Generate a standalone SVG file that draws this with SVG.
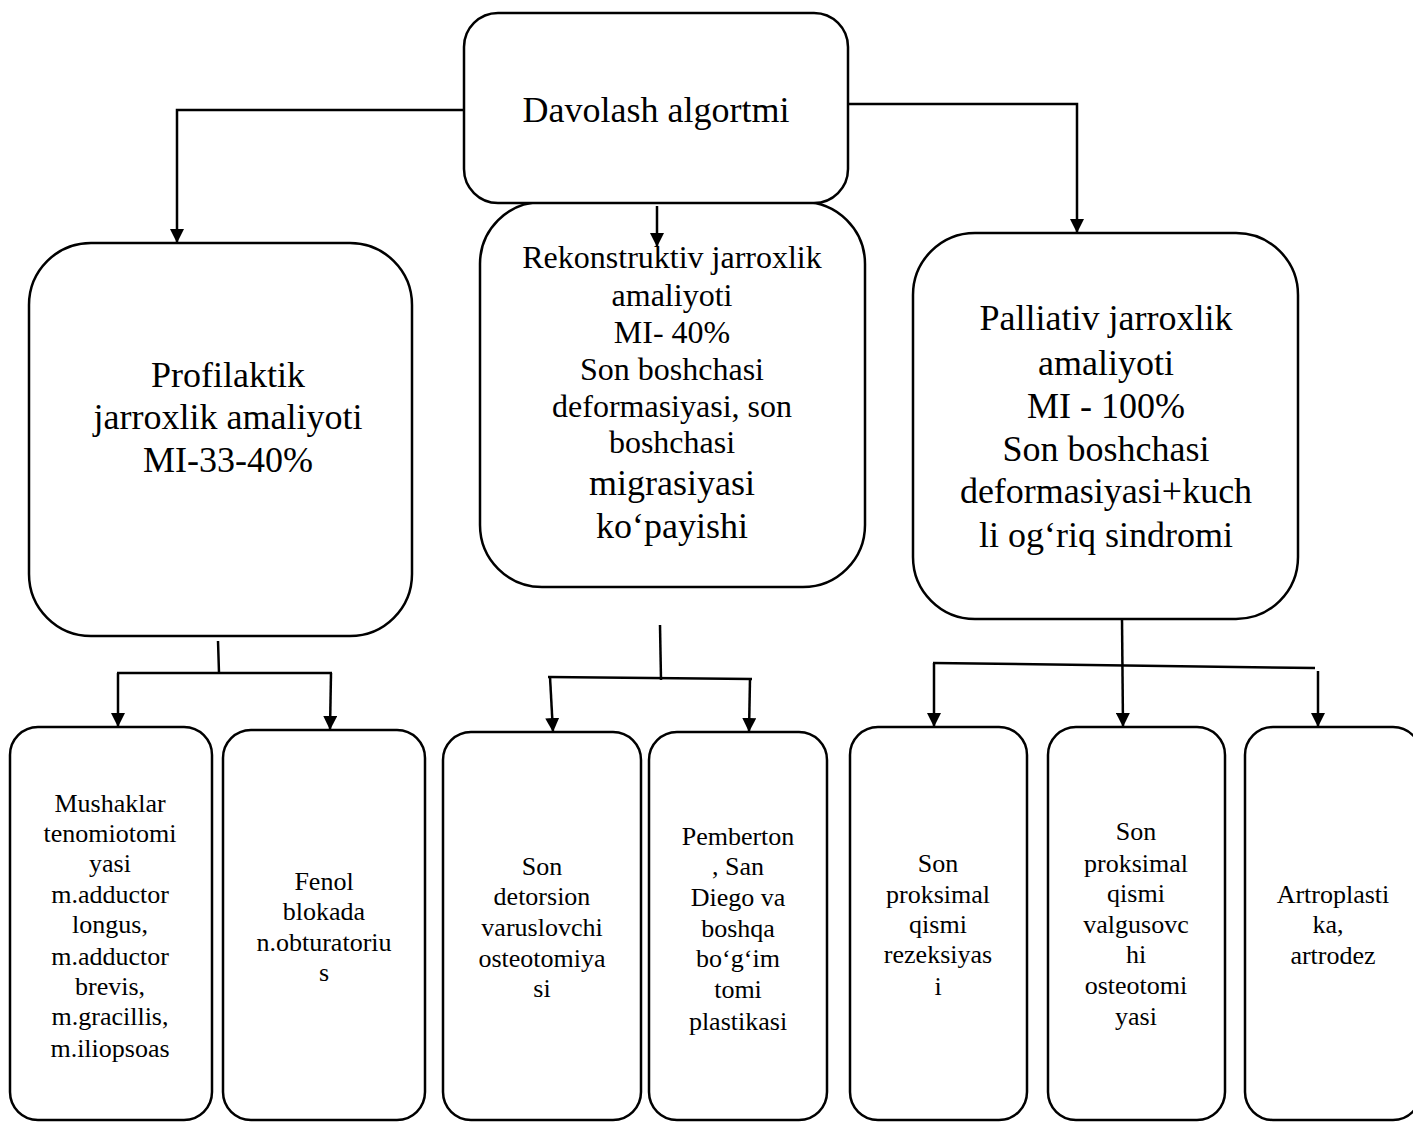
<svg xmlns="http://www.w3.org/2000/svg" width="1413" height="1122" viewBox="0 0 1413 1122">
<style>
.box{fill:#fff;stroke:#000;stroke-width:2.5}
.c{fill:none;stroke:#000;stroke-width:2.5}
text{font-family:"Liberation Serif","Times New Roman",serif;fill:#000;text-anchor:middle}
.big{font-size:36px}
.mid{font-size:32px}
.sm{font-size:26px}
</style>
<defs>
<marker id="ah" markerUnits="userSpaceOnUse" markerWidth="14" markerHeight="14" refX="14" refY="7" orient="auto">
<path d="M0,0 L14,7 L0,14 z" fill="#000"/>
</marker>
</defs>
<rect width="1413" height="1122" fill="#fff"/>

<g id="n-profilaktik">
<rect class="box" x="29" y="243" width="383" height="393" rx="62" ry="62"/>
<text class="big" x="228" y="387">Profilaktik</text>
<text class="big" x="228" y="429">jarroxlik amaliyoti</text>
<text class="big" x="228" y="472">MI-33-40%</text>
</g>

<g id="n-rekonstruktiv">
<rect class="box" x="480" y="202" width="385" height="385" rx="62" ry="62"/>
<text class="mid" x="672" y="268">Rekonstruktiv jarroxlik</text>
<text class="mid" x="672" y="306">amaliyoti</text>
<text class="mid" x="672" y="343">MI- 40%</text>
<text class="mid" x="672" y="380">Son boshchasi</text>
<text class="mid" x="672" y="417">deformasiyasi, son</text>
<text class="mid" x="672" y="453">boshchasi</text>
<text class="big" x="672" y="495">migrasiyasi</text>
<text class="big" x="672" y="538">ko‘payishi</text>
</g>

<g id="n-davolash">
<rect class="box" x="464" y="13" width="384" height="190" rx="34" ry="34"/>
<text class="big" x="656" y="122">Davolash algortmi</text>
</g>

<g id="n-palliativ">
<rect class="box" x="913" y="233" width="385" height="386" rx="62" ry="62"/>
<text class="big" x="1106" y="330">Palliativ jarroxlik</text>
<text class="big" x="1106" y="375">amaliyoti</text>
<text class="big" x="1106" y="418">MI - 100%</text>
<text class="big" x="1106" y="461">Son boshchasi</text>
<text class="big" x="1106" y="503">deformasiyasi+kuch</text>
<text class="big" x="1106" y="547">li og‘riq sindromi</text>
</g>

<g id="n-mushaklar">
<rect class="box" x="10" y="727" width="202" height="393" rx="28" ry="28"/>
<text class="sm" x="110" y="812">Mushaklar</text>
<text class="sm" x="110" y="842">tenomiotomi</text>
<text class="sm" x="110" y="872">yasi</text>
<text class="sm" x="110" y="903">m.adductor</text>
<text class="sm" x="110" y="933">longus,</text>
<text class="sm" x="110" y="965">m.adductor</text>
<text class="sm" x="110" y="995">brevis,</text>
<text class="sm" x="110" y="1025">m.gracillis,</text>
<text class="sm" x="110" y="1057">m.iliopsoas</text>
</g>

<g id="n-fenol">
<rect class="box" x="223" y="730" width="202" height="390" rx="28" ry="28"/>
<text class="sm" x="324" y="890">Fenol</text>
<text class="sm" x="324" y="920">blokada</text>
<text class="sm" x="324" y="951">n.obturatoriu</text>
<text class="sm" x="324" y="981">s</text>
</g>

<g id="n-detorsion">
<rect class="box" x="443" y="732" width="198" height="388" rx="28" ry="28"/>
<text class="sm" x="542" y="875">Son</text>
<text class="sm" x="542" y="905">detorsion</text>
<text class="sm" x="542" y="936">varuslovchi</text>
<text class="sm" x="542" y="967">osteotomiya</text>
<text class="sm" x="542" y="997">si</text>
</g>

<g id="n-pemberton">
<rect class="box" x="649" y="732" width="178" height="388" rx="28" ry="28"/>
<text class="sm" x="738" y="845">Pemberton</text>
<text class="sm" x="738" y="875">, San</text>
<text class="sm" x="738" y="906">Diego va</text>
<text class="sm" x="738" y="937">boshqa</text>
<text class="sm" x="738" y="967">bo‘g‘im</text>
<text class="sm" x="738" y="998">tomi</text>
<text class="sm" x="738" y="1030">plastikasi</text>
</g>

<g id="n-rezeksiya">
<rect class="box" x="850" y="727" width="177" height="393" rx="28" ry="28"/>
<text class="sm" x="938" y="872">Son</text>
<text class="sm" x="938" y="903">proksimal</text>
<text class="sm" x="938" y="933">qismi</text>
<text class="sm" x="938" y="963">rezeksiyas</text>
<text class="sm" x="938" y="995">i</text>
</g>

<g id="n-valgus">
<rect class="box" x="1048" y="727" width="177" height="393" rx="28" ry="28"/>
<text class="sm" x="1136" y="840">Son</text>
<text class="sm" x="1136" y="872">proksimal</text>
<text class="sm" x="1136" y="902">qismi</text>
<text class="sm" x="1136" y="933">valgusovc</text>
<text class="sm" x="1136" y="963">hi</text>
<text class="sm" x="1136" y="994">osteotomi</text>
<text class="sm" x="1136" y="1025">yasi</text>
</g>

<g id="n-artroplastika">
<rect class="box" x="1245" y="727" width="176" height="393" rx="28" ry="28"/>
<text class="sm" x="1333" y="903">Artroplasti</text>
<text class="sm" x="1328" y="933">ka,</text>
<text class="sm" x="1333" y="964">artrodez</text>
</g>

<g id="connectors">
<path class="c" d="M464,110 H177 V243" marker-end="url(#ah)"/>
<path class="c" d="M848,104 H1077 V233" marker-end="url(#ah)"/>
<path class="c" d="M657,206 V247" marker-end="url(#ah)"/>

<path class="c" d="M218,641 L219,673"/>
<path class="c" d="M117,673 H332"/>
<path class="c" d="M118,673 V727" marker-end="url(#ah)"/>
<path class="c" d="M331,673 L330,730" marker-end="url(#ah)"/>

<path class="c" d="M660,625 L661,680"/>
<path class="c" d="M548,677 L752,679"/>
<path class="c" d="M550,677 L553,732" marker-end="url(#ah)"/>
<path class="c" d="M750,679 L749,732" marker-end="url(#ah)"/>

<path class="c" d="M1122,619 L1123,727" marker-end="url(#ah)"/>
<path class="c" d="M933,663 L1315,668"/>
<path class="c" d="M934,663 V727" marker-end="url(#ah)"/>
<path class="c" d="M1318,671 V727" marker-end="url(#ah)"/>
</g>
</svg>
